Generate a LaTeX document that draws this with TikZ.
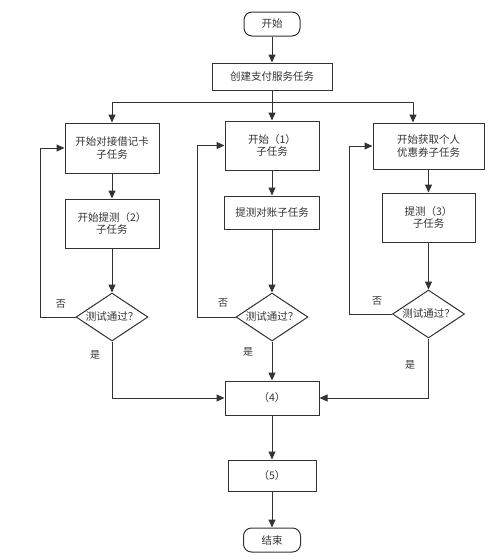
\documentclass[tikz,border=0pt]{standalone}
\usepackage{fontspec}
\newfontfamily\cjk{Noto Sans CJK SC}
\usetikzlibrary{arrows.meta,shapes.geometric}
\definecolor{ln}{HTML}{333333}
\definecolor{tx}{HTML}{333333}
\tikzset{
  base/.style={draw=ln,line width=1pt,text=tx,font=\cjk\fontsize{10.5}{12.5}\selectfont,align=center,inner sep=0pt},
  boxn/.style={base,rectangle},
  term/.style={base,rectangle,rounded corners=8pt,minimum width=56pt,minimum height=24pt},
  dia/.style={base,diamond,aspect=1.5,minimum width=72pt,minimum height=48pt},
  arr/.style={draw=ln,line width=1pt,-{Triangle[length=8pt,width=7pt]}},
  lbl/.style={text=tx,font=\cjk\fontsize{10}{12}\selectfont,inner sep=0pt}
}
\begin{document}
\begin{tikzpicture}[x=1pt,y=-1pt]
\useasboundingbox (0,0) rectangle (493,558);
\node[term] (start) at (272,24) {开始};
\node[boxn,minimum width=120pt,minimum height=27pt] (create) at (272,76.5) {创建支付服务任务};
\node[boxn,minimum width=94pt,minimum height=50pt] (L1) at (112,148) {开始对接借记卡\\子任务};
\node[boxn,minimum width=94pt,minimum height=49pt] (L2) at (112,223.5) {开始提测（2）\\子任务};
\node[dia] (Ld) at (112,317) {测试通过？};
\node[boxn,minimum width=94pt,minimum height=49pt] (M1) at (272,145.5) {开始（1）\\子任务};
\node[boxn,minimum width=95pt,minimum height=33pt] (M2) at (272,212.5) {提测对账子任务};
\node[dia] (Md) at (272,317) {测试通过？};
\node[boxn,minimum width=111pt,minimum height=46pt] (R1) at (428.5,146) {开始获取个人\\优惠券子任务};
\node[boxn,minimum width=93pt,minimum height=49pt] (R2) at (428.5,217.5) {提测（3）\\子任务};
\node[dia] (Rd) at (428.5,314) {测试通过？};
\node[boxn,minimum width=94pt,minimum height=34pt] (B4) at (272,398) {（4）};
\node[boxn,minimum width=88pt,minimum height=31pt] (B5) at (272,475.5) {（5）};
\node[term,minimum width=57pt] (end) at (272,540) {结束};
\coordinate (br) at (272,102);
\coordinate (rr) at (413,102);
\draw[arr] (start) -- (create);
\draw[arr] (create.south) -- (br) -| (L1.north);
\draw[arr] (br) -- (M1.north);
\draw[arr] (br) -- (rr) -- (rr |- R1.north);
\draw[arr] (L1) -- (L2);
\draw[arr] (L2) -- (Ld);
\draw[arr] (M1) -- (M2);
\draw[arr] (M2) -- (Md);
\draw[arr] (R1.south -| R2.north) -- (R2.north);
\draw[arr] (R2) -- (Rd);
\draw[arr] (Ld.west) -- ++(-35,0) |- (L1.west);
\draw[arr] (Md.west) -- ++(-38,0) |- (M1.west);
\draw[arr] (Rd.west) -- ++(-43,0) |- (R1.west);
\draw[arr] (Ld.south) |- (B4.west);
\draw[arr] (Md.south) -- (B4.north);
\draw[arr] (Rd.south) |- (B4.east);
\draw[arr] (B4) -- (B5);
\draw[arr] (B5) -- (end);
\node[lbl] (n1) at (61,304) {否};
\node[lbl] (n2) at (223,303) {否};
\node[lbl] (n3) at (377,301) {否};
\node[lbl] (y1) at (95,355) {是};
\node[lbl] (y2) at (248,352) {是};
\node[lbl] (y3) at (410,365) {是};
\end{tikzpicture}
\end{document}
